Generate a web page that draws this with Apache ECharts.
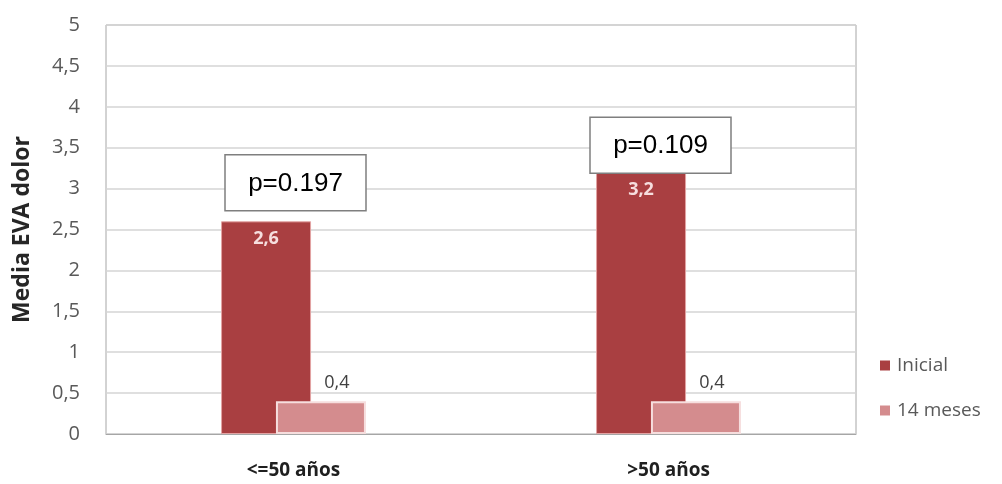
<!DOCTYPE html>
<html>
<head>
<meta charset="utf-8">
<style>
  html, body { margin: 0; padding: 0; background: #ffffff; }
  #chart { width: 1002px; height: 484px; }
</style>
<script src="https://cdn.jsdelivr.net/npm/echarts@6/dist/echarts.min.js"></script>
</head>
<body>
<div id="chart"></div>
<script>
// Age groups and mean pain scores (EVA) at baseline and after 14 months
const categories = ['<=50 años', '>50 años'];
const inicial = [2.6, 3.2];
const meses14 = [0.4, 0.4];
const seriesNames = ['Inicial', '14 meses'];
const yTicks = [0, 0.5, 1, 1.5, 2, 2.5, 3, 3.5, 4, 4.5, 5];

// Significance notes written in boxes above each group
const pLabels = ['p=0.197', 'p=0.109'];
const pLevels = [3.07, 3.53];

const fmt = v => String(v).replace('.', ',');
const FONT = '"Open Sans", Lato, "DejaVu Sans", sans-serif';

const chart = echarts.init(document.getElementById('chart'), null, { renderer: 'canvas' });

const option = {
  backgroundColor: '#ffffff',
  animation: false,
  textStyle: { fontFamily: FONT },
  grid: {
    left: 106, right: 146, top: 25, bottom: 50,
    show: true, borderColor: '#a6a6a6', borderWidth: 1
  },
  legend: {
    data: seriesNames,
    orient: 'vertical',
    left: 875,
    top: 351,
    itemWidth: 10,
    itemHeight: 10,
    itemGap: 26,
    icon: 'rect',
    itemStyle: { borderWidth: 0 },
    textStyle: { color: '#595959', fontSize: 19, fontFamily: FONT, padding: [0, 0, 0, 2] }
  },
  xAxis: {
    type: 'category',
    data: categories,
    axisTick: { show: false },
    axisLine: { show: true, lineStyle: { color: '#a6a6a6' } },
    axisLabel: {
      margin: 27, color: '#1f1f1f', fontSize: 19, fontWeight: 'bold', fontFamily: FONT
    }
  },
  yAxis: {
    type: 'value',
    min: yTicks[0],
    max: yTicks[yTicks.length - 1],
    interval: 0.5,
    name: 'Media EVA dolor',
    nameLocation: 'middle',
    nameGap: 72,
    nameRotate: 90,
    nameTextStyle: { color: '#262626', fontSize: 23, fontWeight: 'bold', fontFamily: FONT },
    axisLine: { show: false },
    axisTick: { show: false },
    axisLabel: {
      margin: 26, color: '#595959', fontSize: 20, fontFamily: FONT,
      formatter: v => fmt(v)
    },
    splitLine: { lineStyle: { color: '#d4d4d4', width: 1.5 } }
  },
  series: [
    {
      name: seriesNames[0],
      type: 'bar',
      data: inicial,
      barWidth: 90,
      barGap: '-39%',
      itemStyle: { color: '#a93f41', borderColor: '#e3a3a3', borderWidth: 1 },
      label: {
        show: true,
        position: 'insideTop',
        distance: 9,
        color: '#f6dede',
        fontSize: 18,
        fontWeight: 'bold',
        fontFamily: FONT,
        formatter: p => fmt(p.value)
      },
      z: 2
    },
    {
      name: seriesNames[1],
      type: 'bar',
      data: meses14,
      barWidth: 90,
      barGap: '-39%',
      itemStyle: { color: '#d48c8e', borderColor: '#f6dede', borderWidth: 2 },
      label: {
        show: true,
        position: 'top',
        distance: 9,
        offset: [16, 0],
        color: '#404040',
        fontSize: 18,
        fontFamily: FONT,
        formatter: p => fmt(p.value)
      },
      z: 3
    },
    {
      // p-value boxes anchored to the category axis and value scale
      name: 'p',
      type: 'custom',
      data: pLevels.map((v, i) => [i, v]),
      z: 5,
      silent: true,
      renderItem: (params, api) => {
        const i = api.value(0);
        const pt = api.coord([i, api.value(1)]);
        const shift = i === 0 ? 2 : -8;
        const w = 141, h = 56;
        const cx = pt[0] + shift, cy = pt[1];
        return {
          type: 'group',
          children: [
            {
              type: 'rect',
              shape: { x: cx - w / 2, y: cy - h / 2, width: w, height: h },
              style: { fill: '#ffffff', stroke: '#7f7f7f', lineWidth: 1.5 }
            },
            {
              type: 'text',
              style: {
                x: cx, y: cy + 1,
                text: pLabels[i],
                align: 'center',
                verticalAlign: 'middle',
                fill: '#000000',
                fontSize: 26,
                fontFamily: '"Liberation Sans", Arial, sans-serif'
              }
            }
          ]
        };
      }
    }
  ]
};

chart.setOption(option);
</script>
</body>
</html>
